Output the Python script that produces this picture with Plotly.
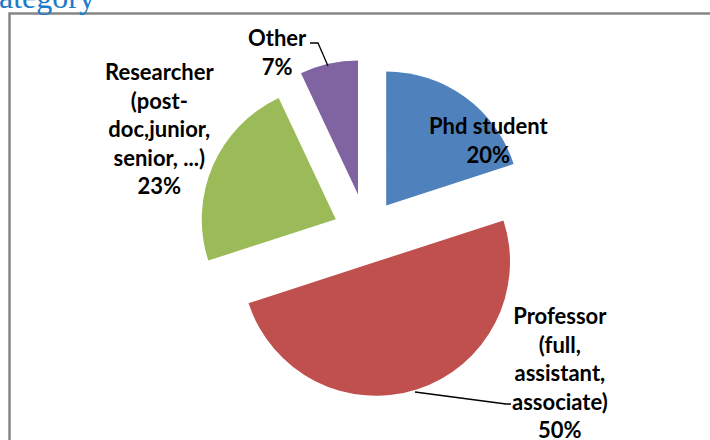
import plotly.graph_objects as go

W, H = 710, 440

categories = ["Phd student", "Professor (full, assistant, associate)",
              "Researcher (post-doc,junior, senior, ...)", "Other"]
values = [20, 50, 23, 7]
label_texts = ["Phd student<br>20%", "Professor<br>(full,<br>assistant,<br>associate)<br>50%",
               "Researcher<br>(post-<br>doc,junior,<br>senior, ...)<br>23%", "Other<br>7%"]
colors = ["#4F81BD", "#C0504D", "#9BBB59", "#8064A2"]
pulls = [0.25, 0.23, 0.25, 0.29]


def px(x):
    return x / W


def py(y):
    return 1 - y / H


# pie geometry (pixels)
cx, cy, r = 366.5, 232.5, 134
half = r * (1 + max(pulls))

fig = go.Figure(go.Pie(
    labels=categories,
    values=values,
    sort=False,
    direction="clockwise",
    rotation=0,
    pull=pulls,
    marker=dict(colors=colors, line=dict(width=0)),
    textinfo="none",
    hoverinfo="label+percent",
    showlegend=False,
    domain=dict(x=[px(cx - half), px(cx + half)], y=[py(cy + half), py(cy - half)]),
))

label_pos = [(489, 140), (560, 372), (159, 128), (277, 52)]
annotations = []
for txt, (lx, ly) in zip(label_texts, label_pos):
    annotations.append(dict(
        text="<b>" + txt + "</b>", x=px(lx), y=py(ly), xref="paper", yref="paper",
        showarrow=False, xanchor="center", yanchor="middle", align="center",
        font=dict(family="Lato", size=22, color="#000000"),
    ))

# cut-off chart title at top-left
annotations.append(dict(
    text="ategory", x=px(-3), y=py(8), xref="paper", yref="paper",
    showarrow=False, xanchor="left", yanchor="bottom", yshift=-9,
    font=dict(family="Liberation Serif", size=32, color="#1A7CC9"),
))

shapes = [
    # chart frame
    dict(type="rect", xref="paper", yref="paper", x0=px(9.5), y0=py(13.5), x1=px(720), y1=py(450),
         line=dict(color="#868686", width=2.5), fillcolor="rgba(0,0,0,0)"),
    # leader lines
    dict(type="path", xref="paper", yref="paper",
         path=f"M {px(310)},{py(43)} L {px(318)},{py(43)} L {px(328)},{py(66)}",
         line=dict(color="#000000", width=1.3)),
    dict(type="path", xref="paper", yref="paper",
         path=f"M {px(415)},{py(392)} L {px(506)},{py(404)} L {px(511)},{py(404)}",
         line=dict(color="#000000", width=1.3)),
]

fig.update_layout(
    width=W, height=H,
    margin=dict(l=0, r=0, t=0, b=0),
    paper_bgcolor="#FFFFFF",
    plot_bgcolor="#FFFFFF",
    annotations=annotations,
    shapes=shapes,
)

fig.write_html("out.html", config={"displayModeBar": False},
               post_script="document.body.style.margin='0';document.body.style.overflow='hidden';")
